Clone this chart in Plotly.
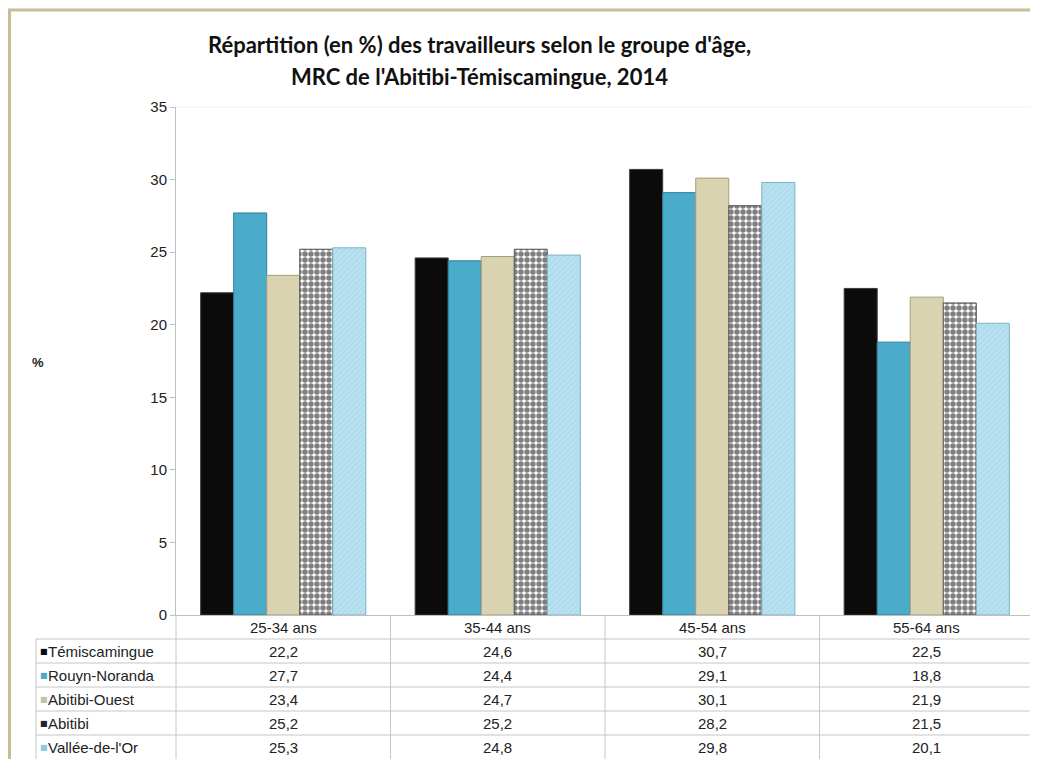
import plotly.graph_objects as go

categories = ["25-34 ans", "35-44 ans", "45-54 ans", "55-64 ans"]
series_names = ["Témiscamingue", "Rouyn-Noranda", "Abitibi-Ouest", "Abitibi", "Vallée-de-l'Or"]
temiscamingue = [22.2, 24.6, 30.7, 22.5]
rouyn_noranda = [27.7, 24.4, 29.1, 18.8]
abitibi_ouest = [23.4, 24.7, 30.1, 21.9]
abitibi = [25.2, 25.2, 28.2, 21.5]
vallee_de_lor = [25.3, 24.8, 29.8, 20.1]
series_values = [temiscamingue, rouyn_noranda, abitibi_ouest, abitibi, vallee_de_lor]
y_ticks = [0, 5, 10, 15, 20, 25, 30, 35]

title_lines = ["Répartition (en %) des travailleurs selon le groupe d'âge,",
               "MRC de l'Abitibi-Témiscamingue, 2014"]

# page is offset by the browser's default 8px body margin
OFF = 8
W, H = 1038 - OFF, 759 - OFF
# plot area in page pixels
P_LEFT, P_RIGHT, P_TOP, P_BOTTOM = 176, 1034, 107, 615
L = P_LEFT - OFF
R = W - (P_RIGHT - OFF)
T = P_TOP - OFF
B = H - (P_BOTTOM - OFF)
PW = W - L - R
PH = H - T - B


def px(x):
    return (x - P_LEFT) / PW


def py(y):
    return (P_BOTTOM - y) / PH


styles = [
    dict(color="#0b0b0b", line=dict(color="#3a3a3a", width=1)),
    dict(color="#4aabca", line=dict(color="#2d7f98", width=1)),
    dict(color="#d9d3b1", line=dict(color="#a59e7c", width=1)),
    dict(color="white", line=dict(color="#555555", width=1),
         pattern=dict(shape=".", fgcolor="black", bgcolor="white", size=6, solidity=0.65)),
    dict(color="#b5dff0", line=dict(color="#7cb4c8", width=1),
         pattern=dict(shape="/", fgcolor="#9fcfe2", bgcolor="#b8e1f1", size=4, solidity=0.3)),
]
key_colors = ["#0b0b0b", "#4aabca", "#c9c2a0", "#222222", "#8fcbe0"]

fig = go.Figure()
for name, vals, st in zip(series_names, series_values, styles):
    fig.add_trace(go.Bar(x=categories, y=vals, name=name, marker=st))

font_main = "Liberation Sans, Arial, sans-serif"

fig.update_layout(
    width=W, height=H,
    margin=dict(l=L, r=R, t=T, b=B),
    paper_bgcolor="white", plot_bgcolor="white",
    barmode="group", bargap=0.23, bargroupgap=0,
    showlegend=False,
    font=dict(family=font_main, size=14, color="#222222"),
)
fig.update_yaxes(range=[0, 35], tickvals=y_ticks, showgrid=False, zeroline=False,
                 showline=True, linecolor="#bfbfbf", linewidth=1,
                 ticks="outside", ticklen=5, tickcolor="#bfbfbf",
                 tickfont=dict(family=font_main, size=15, color="#222222"))
fig.update_xaxes(showticklabels=False, showgrid=False, zeroline=False,
                 showline=True, linecolor="#bfbfbf", linewidth=1, ticks="")

shapes = []
grid_col = "#c6c6c6"
# chart border (olive)
shapes.append(dict(type="line", xref="paper", yref="paper", x0=px(8), x1=px(1040), y0=py(10), y1=py(10),
                   line=dict(color="#c8bd96", width=3)))
shapes.append(dict(type="line", xref="paper", yref="paper", x0=px(9.5), x1=px(9.5), y0=py(9), y1=py(762),
                   line=dict(color="#c8bd96", width=3)))
# faint top line of plot area
shapes.append(dict(type="line", xref="paper", yref="paper", x0=0, x1=1, y0=1, y1=1,
                   line=dict(color="#f0f0f0", width=1)))

row_h = 24
header_top = P_BOTTOM
rows_top = header_top + row_h
n_rows = len(series_names)
table_bottom = rows_top + n_rows * row_h
for i in range(n_rows):
    yl = rows_top + i * row_h
    shapes.append(dict(type="line", xref="paper", yref="paper", x0=px(36), x1=1, y0=py(yl), y1=py(yl),
                       line=dict(color=grid_col, width=1)))
shapes.append(dict(type="line", xref="paper", yref="paper", x0=px(36), x1=px(36), y0=py(rows_top), y1=py(table_bottom),
                   line=dict(color=grid_col, width=1)))
for k in range(len(categories) + 1):
    xx = k / len(categories)
    shapes.append(dict(type="line", xref="paper", yref="paper", x0=xx, x1=xx, y0=py(header_top), y1=py(table_bottom),
                       line=dict(color=grid_col, width=1)))

annotations = []
for i, line in enumerate(title_lines):
    annotations.append(dict(text="<b>" + line + "</b>", xref="paper", yref="paper",
                            x=px(479), y=py(44 + i * 32), xanchor="center", yanchor="middle",
                            showarrow=False,
                            font=dict(family="Lato, sans-serif", size=22, color="#111111")))
annotations.append(dict(text="<b>%</b>", xref="paper", yref="paper", x=px(38), y=py(362),
                        xanchor="center", yanchor="middle", showarrow=False,
                        font=dict(family=font_main, size=13, color="#222222")))
for c in categories:
    annotations.append(dict(text=c, xref="x", yref="paper", x=c, y=py(header_top + row_h / 2),
                            xanchor="center", yanchor="middle", showarrow=False,
                            font=dict(family=font_main, size=15, color="#222222")))
for i, (name, vals) in enumerate(zip(series_names, series_values)):
    yc = py(rows_top + i * row_h + row_h / 2)
    annotations.append(dict(text="■", xref="paper", yref="paper", x=px(38), y=yc,
                            xanchor="left", yanchor="middle", showarrow=False,
                            font=dict(family="DejaVu Sans", size=8, color=key_colors[i])))
    annotations.append(dict(text=name, xref="paper", yref="paper", x=px(46), y=yc,
                            xanchor="left", yanchor="middle", showarrow=False,
                            font=dict(family=font_main, size=15, color="#222222")))
    for c, v in zip(categories, vals):
        annotations.append(dict(text=f"{v:.1f}".replace(".", ","), xref="x", yref="paper", x=c, y=yc,
                                xanchor="center", yanchor="middle", showarrow=False,
                                font=dict(family=font_main, size=15, color="#222222")))

fig.update_layout(shapes=shapes, annotations=annotations)
fig.write_html("out.html")
